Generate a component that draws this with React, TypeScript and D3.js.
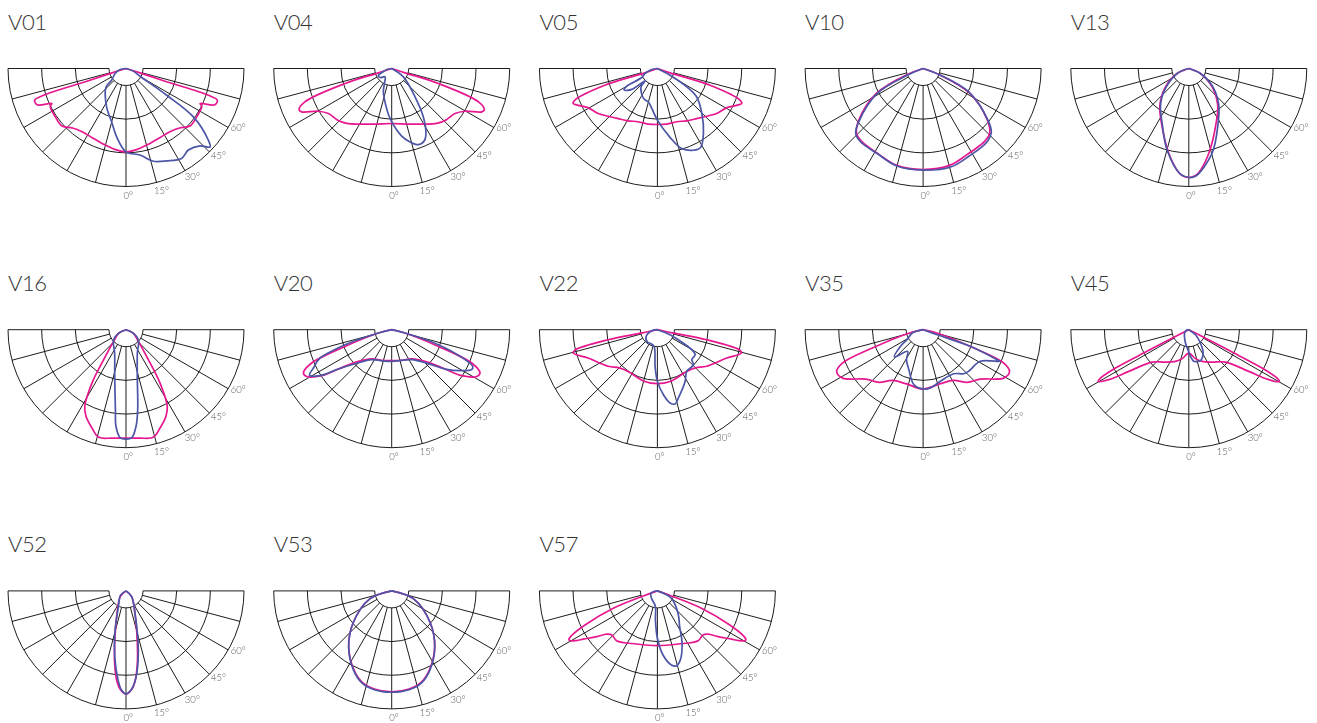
import React from "react";
import * as d3 from "d3";

type Pt = [number, number]; // [gamma angle in degrees, intensity]

const RINGS = [51, 152, 253, 354];
const SPOKES = [-90, -75, -60, -45, -30, -15, 0, 15, 30, 45, 60, 75, 90];
const TICKS = [0, 15, 30, 45, 60];
const MAX_VALUE = 354;

// Pink plane is symmetric: only one half is listed, 0..90 degrees
const V01_PINK: Pt[] = [[0,250],[8,245],[17.7,236],[26,231],[34.8,231],[42,240],[48,258],[55.6,257],[63.5,254],[64.7,246],[67.8,288],[70.9,290],[72,260],[72,128],[72.8,44],[90,0]];
const V01_BLUE: Pt[] = [[-90,0],[-80,18],[-65,36],[-51,55],[-46.5,83],[-26.8,129],[-15,166],[-7.8,207],[0,250],[9.2,263],[16.4,290],[23.8,303],[31.7,317],[37.4,308],[43.7,321],[47,345],[49,327],[54.3,249],[56.7,146],[61,48],[70,23],[90,0]];
const V04_PINK: Pt[] = [[0,165],[16.7,174],[29.6,192],[39.3,213],[47,225],[54.6,233],[59.8,255],[64.3,300],[66.1,304],[69,279],[72.2,147],[72,42],[90,0]];
const V04_BLUE: Pt[] = [[-90,0],[-78.7,15],[-66.6,33],[-63,45],[-52,44],[-38.7,32],[-26,50],[-19.7,74],[-9.3,111],[-1.9,150],[8.4,205],[14,227],[19.3,242],[24.3,238],[27.8,220],[33.2,173],[39.5,110],[54.5,43],[90,0]];
const V05_PINK: Pt[] = [[0,168],[9.5,169],[20,170],[29.3,180],[38,191],[46,206],[52.8,223],[60.6,239],[67.5,274],[69,266],[72.4,166],[71,40],[90,0]];
const V05_BLUE: Pt[] = [[-90,0],[-80,17],[-68,40],[-60,54],[-60,106],[-57,119],[-50.7,99],[-45,52],[-41.7,74],[-25,99],[-15.1,104],[-8,121],[0,155],[10.4,210],[16.9,251],[23.8,268],[28.7,270],[35.3,239],[44.6,190],[54.2,145],[58,104],[62,43],[90,0]];
const V10_PINK: Pt[] = [[0,303],[15.6,301],[27,290],[40.4,286],[46,278],[51.4,246],[62,158],[69,54],[90,0]];
const V10_BLUE: Pt[] = [[-90,0],[-67,52],[-61.5,157],[-50.3,251],[-46,281],[-40.5,289],[-28.4,290],[-15,303],[0,305],[15.6,307],[27.5,297],[41,292],[47.2,279],[52,244],[62.9,154],[69,56],[90,0]];
const V13_PINK: Pt[] = [[0,327],[3,323],[5.4,314],[13.2,262],[26.4,184],[38.3,140],[51.8,89],[66.8,38],[90,0]];
const V13_BLUE: Pt[] = [[-90,0],[-66.8,38],[-47,103],[-36.5,143],[-25.9,183],[-14.9,253],[-4.5,318],[0,327],[3.5,324],[15.3,264],[28,187],[39.3,142],[52.6,91],[66.8,38],[90,0]];
const V16_PINK: Pt[] = [[0,325],[7.4,328],[14.2,333],[19.1,312],[24.8,286],[28.3,261],[32.5,190],[36.7,112],[46.6,51],[65,24],[90,0]];
const V16_BLUE: Pt[] = [[-90,0],[-65,24],[-51,48],[-25.9,78],[-13.6,144],[-7.5,243],[-5.9,292],[-3,325],[0,328],[3,325],[5.9,292],[8.3,243],[13.6,144],[25.9,78],[51,48],[65,24],[90,0]];
const V20_PINK: Pt[] = [[0,93],[18,97],[34.6,106],[48.3,147],[53.6,199],[56.7,251],[61.2,291],[63.9,295],[67.4,260],[70.3,149],[76,41],[90,0]];
const V20_BLUE: Pt[] = [[-90,0],[-76,41],[-72,147],[-68,235],[-64.4,258],[-61,282],[-57.3,255],[-53.6,199],[-47,150],[-33.7,108],[-15,97],[0,95],[33.7,108],[47.2,150],[53.6,199],[59.6,243],[63.4,268],[65.6,267],[67.8,238],[72.2,147],[76,41],[90,0]];
const V22_PINK: Pt[] = [[0,162],[13.8,160],[35.1,153],[45,162],[53.4,184],[67.8,225],[74.5,262],[76,256],[78.5,151],[78,49],[90,0]];
const V22_BLUE: Pt[] = [[-90,0],[-80,17],[-59.5,39],[-39,48],[-28.8,46],[-11.3,51],[-3.6,110],[0,155],[5.3,196],[9.8,223],[13.4,229],[17.1,214],[28.2,176],[35.1,153],[45.8,151],[48.9,137],[56.4,136],[59,126],[68,41],[90,0]];
const V35_PINK: Pt[] = [[0,178],[17.8,170],[31.2,178],[39.9,206],[49.3,227],[59,282],[64.2,288],[67.5,262],[70.1,162],[75.7,49],[90,0]];
const V35_BLUE: Pt[] = [[-90,0],[-73,34],[-58,57],[-53.7,84],[-46.4,119],[-35.3,80],[-29,103],[-19.7,127],[-9.6,167],[0,178],[7.2,176],[18.5,163],[34.9,161],[42.7,180],[47.6,185],[61.1,196],[67.6,249],[67.9,240],[70.6,150],[70.3,45],[90,0]];
const V45_PINK: Pt[] = [[0,70],[12.9,89],[22.8,103],[35.8,120],[48.6,147],[55.2,219],[58,283],[60.3,313],[61.3,302],[62.4,248],[62.7,135],[63.4,45],[90,0]];
const V45_BLUE: Pt[] = [[-90,0],[-76,8],[-52,16],[-14,41],[0,67],[3.6,80],[9,96],[20.6,99],[31.6,82],[41,53],[53,25],[90,0]];
const V52_PINK: Pt[] = [[0,309],[3.3,296],[5.7,273],[8.9,220],[12.2,161],[21.9,72],[45,24],[90,0]];
const V52_BLUE: Pt[] = [[-90,0],[-53,20],[-26,52],[-14.6,134],[-9.5,203],[-5.6,261],[-2.7,297],[0,309],[3,297],[6.6,261],[11.8,181],[21.9,72],[45,24],[90,0]];
const V53_PINK: Pt[] = [[0,303],[10,299],[18,288],[25.7,262],[37.5,212],[50.4,150],[70,70],[90,0]];
const V53_BLUE: Pt[] = [[-90,0],[-70,70],[-50.4,150],[-37.5,212],[-25.7,264],[-18,290],[-10,301],[0,304],[10,301],[18,290],[25.7,264],[37.5,212],[50.4,150],[70,70],[90,0]];
const V57_PINK: Pt[] = [[0,164],[21.3,171],[39.3,193],[46,190],[49.5,200],[53,228],[56.9,265],[58.5,285],[60,300],[61.2,303],[62.5,290],[64.8,240],[68.5,142],[70,45],[90,0]];
const V57_BLUE: Pt[] = [[-90,0],[-83,8],[-70,21],[-39,28],[-7.3,47],[-3.9,87],[0,142],[5,193],[10.7,226],[14.2,232],[18.4,218],[25.2,174],[32,126],[42.8,91],[62.4,47],[90,0]];

const NAMES = ["V01","V04","V05","V10","V13","V16","V20","V22","V35","V45","V52","V53","V57"];
const PINKS = [V01_PINK,V04_PINK,V05_PINK,V10_PINK,V13_PINK,V16_PINK,V20_PINK,V22_PINK,V35_PINK,V45_PINK,V52_PINK,V53_PINK,V57_PINK];
const BLUES = [V01_BLUE,V04_BLUE,V05_BLUE,V10_BLUE,V13_BLUE,V16_BLUE,V20_BLUE,V22_BLUE,V35_BLUE,V45_BLUE,V52_BLUE,V53_BLUE,V57_BLUE];

const COLUMNS = 5;
const OUTER = 118;
const W = 1317;
const H = 723;
const PINK = "#e6178f";
const BLUE = "#4d55a6";
const FONT = "Lato, 'Noto Sans', sans-serif";

const r = d3.scaleLinear().domain([0, MAX_VALUE]).range([0, OUTER]);
const a = (deg: number) => Math.PI - (deg * Math.PI) / 180;
const x = d3.scaleLinear().domain([0, COLUMNS - 1]).range([126, 126 + 265.7 * (COLUMNS - 1)]);
const y = d3.scaleLinear().domain([0, 2]).range([68.5, 68.5 + 261.2 * 2]);

const radial = d3
  .lineRadial<Pt>()
  .angle((d) => a(d[0]))
  .radius((d) => r(d[1]))
  .curve(d3.curveCatmullRom.alpha(0.5));

const mirror = (half: Pt[]): Pt[] => [
  ...half.slice(1).reverse().map(([g, v]) => [-g, v] as Pt),
  ...half,
];

const ringPath = (value: number) => {
  const p = d3.path();
  p.arc(0, 0, r(value), 0, Math.PI);
  return p.toString();
};

function Panel({ index }: { index: number }) {
  const col = index % COLUMNS;
  const row = Math.floor(index / COLUMNS);
  const inner = r(RINGS[0]);
  return (
    <g transform={`translate(${x(col)},${y(row)})`}>
      <text x={-OUTER} y={-38.5} fontFamily={FONT} fontWeight={300} fontSize={22} fill="#333" textLength={39} lengthAdjust="spacing">
        {NAMES[index]}
      </text>
      {RINGS.map((v) => (
        <path key={v} d={ringPath(v)} fill="none" stroke="#111" strokeWidth={0.95} />
      ))}
      {SPOKES.map((g) => (
        <line
          key={g}
          x1={inner * Math.sin(a(g))}
          y1={-inner * Math.cos(a(g))}
          x2={OUTER * Math.sin(a(g))}
          y2={-OUTER * Math.cos(a(g))}
          stroke="#111"
          strokeWidth={0.95}
        />
      ))}
      <g style={{ filter: "grayscale(1)" }}>
        {TICKS.map((g) => {
          const t = a(g + 1 + g / 60);
          return (
            <text
              key={g}
              x={127 * Math.sin(t)}
              y={-127 * Math.cos(t)}
              dy="0.35em"
              textAnchor="middle"
              fontFamily={FONT}
              fontWeight={300}
              fontSize={9.5}
              fill="#555"
            >
              {g}°
            </text>
          );
        })}
      </g>
      <path d={radial(mirror(PINKS[index])) ?? ""} fill="none" stroke={PINK} strokeWidth={1.7} strokeLinejoin="round" />
      <path d={radial(BLUES[index]) ?? ""} fill="none" stroke={BLUE} strokeWidth={1.7} strokeLinejoin="round" />
    </g>
  );
}

export default function App() {
  return (
    <svg width={W} height={H} viewBox={`0 0 ${W} ${H}`} style={{ position: "absolute", left: 0, top: 0 }}>
      {NAMES.map((_, i) => (
        <Panel key={NAMES[i]} index={i} />
      ))}
    </svg>
  );
}
